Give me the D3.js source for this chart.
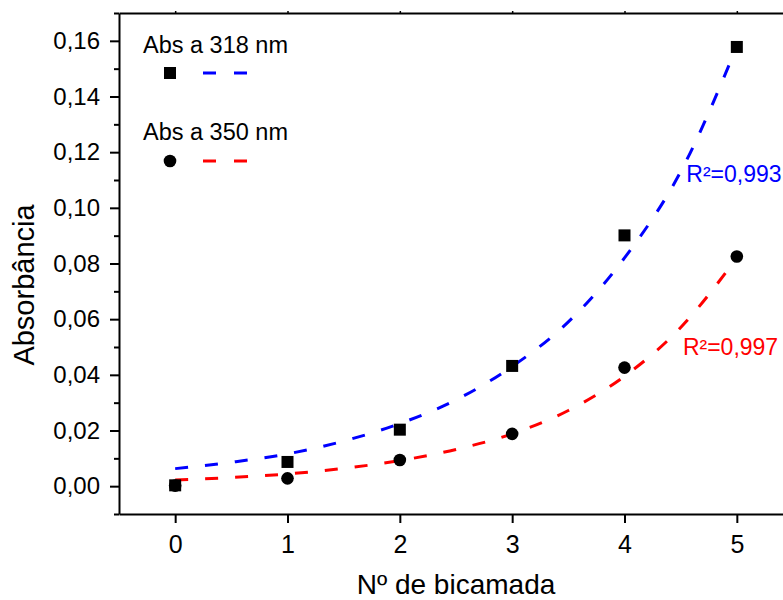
<!DOCTYPE html>
<html>
<head>
<meta charset="utf-8">
<script src="https://cdn.jsdelivr.net/npm/d3@7"></script>
<style>
  body { margin: 0; background: #fff; }
  svg text { font-family: "Liberation Sans", Arial, sans-serif; fill: #000; }
</style>
</head>
<body>
<div id="chart"></div>
<script>
// measured points
var layers = [0, 1, 2, 3, 4, 5];
var abs318 = [0.0003, 0.0087, 0.0203, 0.0432, 0.0901, 0.1578];
var abs350 = [0.0002, 0.0028, 0.0094, 0.0188, 0.0426, 0.0825];

// fitted curves, every half step
var fitX = [0, 0.5, 1, 1.5, 2, 2.5, 3, 3.5, 4, 4.5, 5];
var fit318 = [0.0063, 0.0086, 0.0116, 0.0162, 0.0225, 0.031, 0.043, 0.059, 0.082, 0.113, 0.158];
var fit350 = [0.0022, 0.0031, 0.0044, 0.0064, 0.0092, 0.0132, 0.0188, 0.0272, 0.0395, 0.057, 0.082];

var seriesNames = ["Abs a 318 nm", "Abs a 350 nm"];
var r2Labels = ["R\u00b2=0,993", "R\u00b2=0,997"];
var r2Pos = [[4.55, 0.1093], [4.52, 0.0471]];

var xTicks = [0, 1, 2, 3, 4, 5];
var yTicks = [0, 0.02, 0.04, 0.06, 0.08, 0.10, 0.12, 0.14, 0.16];
var yMinor = [-0.01, 0.01, 0.03, 0.05, 0.07, 0.09, 0.11, 0.13, 0.15, 0.17];

var W = 783, H = 600;
var svg = d3.select("#chart").append("svg")
  .attr("width", W).attr("height", H);

var x = d3.scaleLinear().domain([-0.5, 5.5]).range([119, 793]);
var y = d3.scaleLinear().domain([-0.01, 0.17]).range([514, 13]);

var fmt = function(d){ return d3.format(".2f")(d).replace(".", ","); };

// y minor ticks
svg.append("g")
  .attr("transform", "translate(119,0)")
  .call(d3.axisLeft(y).tickValues(yMinor).tickSize(5).tickFormat(""))
  .call(function(g){ g.select(".domain").remove(); g.selectAll("line").attr("stroke-width", 2); });

// y axis
var yAx = svg.append("g")
  .attr("transform", "translate(119,0)")
  .call(d3.axisLeft(y).tickValues(yTicks).tickSize(9).tickPadding(10).tickFormat(fmt).tickSizeOuter(0));
yAx.selectAll("text").style("font-size", "24px");
yAx.selectAll("line").attr("stroke-width", 2);
yAx.select(".domain").attr("stroke-width", 2);

// x axis
var xAx = svg.append("g")
  .attr("transform", "translate(0,514)")
  .call(d3.axisBottom(x).tickValues(xTicks).tickSize(9).tickPadding(12).tickFormat(d3.format("d")).tickSizeOuter(0));
xAx.selectAll("text").style("font-size", "25px");
xAx.selectAll("line").attr("stroke-width", 2);
xAx.select(".domain").attr("stroke-width", 2);

// top frame
svg.append("g")
  .attr("transform", "translate(0,13)")
  .call(d3.axisTop(x).tickValues(xTicks).tickSize(2).tickFormat("").tickSizeOuter(0))
  .call(function(g){ g.selectAll("line").attr("stroke-width", 1.5); g.select(".domain").attr("stroke-width", 2); });

// fitted lines
var line = d3.line()
  .x(function(d){ return x(d[0]); })
  .y(function(d){ return y(d[1]); })
  .curve(d3.curveMonotoneX);

svg.append("path")
  .datum(fitX.map(function(v, i){ return [v, fit318[i]]; }))
  .attr("d", line).attr("fill", "none")
  .attr("stroke", "#0000ff").attr("stroke-width", 3).attr("stroke-dasharray", "13,17");

svg.append("path")
  .datum(fitX.map(function(v, i){ return [v, fit350[i]]; }))
  .attr("d", line).attr("fill", "none")
  .attr("stroke", "#ff0000").attr("stroke-width", 3).attr("stroke-dasharray", "13,17");

// markers
svg.append("g").selectAll("rect")
  .data(layers.map(function(v, i){ return [v, abs318[i]]; }))
  .enter().append("rect")
  .attr("x", function(d){ return x(d[0]) - 6; })
  .attr("y", function(d){ return y(d[1]) - 6; })
  .attr("width", 12).attr("height", 12)
  .attr("fill", "#000");

svg.append("g").selectAll("circle")
  .data(layers.map(function(v, i){ return [v, abs350[i]]; }))
  .enter().append("circle")
  .attr("cx", function(d){ return x(d[0]); })
  .attr("cy", function(d){ return y(d[1]); })
  .attr("r", 6.3)
  .attr("fill", "#000");

// R² labels
var r2Colors = ["#0000ff", "#ff0000"];
svg.selectAll(".r2").data(r2Labels).enter().append("text")
  .attr("class", "r2")
  .attr("x", function(d, i){ return x(r2Pos[i][0]); })
  .attr("y", function(d, i){ return y(r2Pos[i][1]); })
  .style("font-size", "23px")
  .style("fill", function(d, i){ return r2Colors[i]; })
  .text(function(d){ return d; });

// legend
var leg = svg.append("g");
leg.append("text").attr("x", 143).attr("y", 53).style("font-size", "23.5px").text(seriesNames[0]);
leg.append("rect").attr("x", 164).attr("y", 67).attr("width", 12).attr("height", 12).attr("fill", "#000");
leg.append("line").attr("x1", 203).attr("x2", 247).attr("y1", 73).attr("y2", 73)
  .attr("stroke", "#0000ff").attr("stroke-width", 3).attr("stroke-dasharray", "13,18");
leg.append("text").attr("x", 143).attr("y", 140).style("font-size", "23.5px").text(seriesNames[1]);
leg.append("circle").attr("cx", 170).attr("cy", 161).attr("r", 6.3).attr("fill", "#000");
leg.append("line").attr("x1", 203).attr("x2", 247).attr("y1", 161).attr("y2", 161)
  .attr("stroke", "#ff0000").attr("stroke-width", 3).attr("stroke-dasharray", "13,18");

// axis titles
svg.append("text")
  .attr("x", 456).attr("y", 594)
  .attr("text-anchor", "middle")
  .style("font-size", "28px")
  .text("N\u00ba de bicamada");

svg.append("text")
  .attr("transform", "translate(34,285) rotate(-90)")
  .attr("text-anchor", "middle")
  .style("font-size", "29px")
  .text("Absorb\u00e2ncia");
</script>
</body>
</html>
